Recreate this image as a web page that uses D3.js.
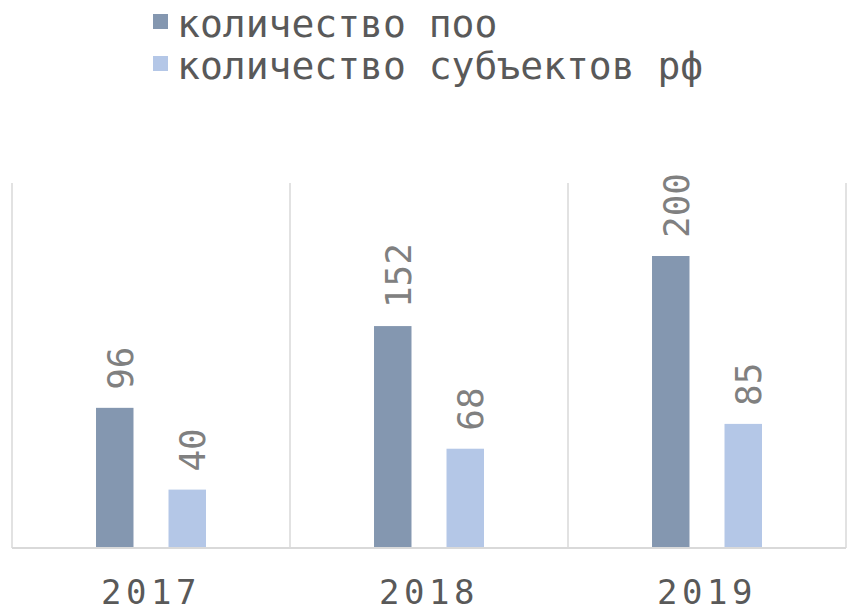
<!DOCTYPE html>
<html>
<head>
<meta charset="utf-8">
<script src="https://cdn.jsdelivr.net/npm/d3@7"></script>
<style>
  body { margin: 0; background: #fff; }
  text { font-family: "DejaVu Sans Mono", monospace; }
</style>
</head>
<body>
<div class="chart"></div>
<script>
// data
let years = ["2017", "2018", "2019"]
let seriesNames = ["количество ПОО", "количество субъектов РФ"]
let pooCount = [96, 152, 200]
let regionCount = [40, 68, 85]
let colors = ["#8497b0", "#b4c7e7"]

let svgWidth = 848
let svgHeight = 614

let svg = d3.select('.chart')
    .append('svg')
    .attr('width', svgWidth)
    .attr('height', svgHeight)

// scales
let xScale = d3.scaleBand()
    .domain(years)
    .range([12, 846])
    .padding(0)

let xInner = d3.scaleBand()
    .domain(seriesNames)
    .range([0, xScale.bandwidth()])
    .paddingInner(0.483)
    .paddingOuter(1.159)

let yScale = d3.scaleLinear()
    .domain([0, 250])
    .range([548, 183])

// build rows for bars
let rows = []
years.forEach((y, i) => {
    rows.push({year: y, series: seriesNames[0], value: pooCount[i], color: colors[0]})
    rows.push({year: y, series: seriesNames[1], value: regionCount[i], color: colors[1]})
})

// vertical gridlines between categories
let bounds = years.map(d => xScale(d)).concat([xScale(years[years.length - 1]) + xScale.bandwidth()])
svg.append('g')
    .selectAll('line')
    .data(bounds)
    .join('line')
    .attr('x1', d => d)
    .attr('x2', d => d)
    .attr('y1', yScale(250))
    .attr('y2', yScale(0))
    .attr('stroke', '#d9d9d9')
    .attr('stroke-width', 1.5)

// bars
svg.append('g')
    .selectAll('rect')
    .data(rows)
    .join('rect')
    .attr('x', d => xScale(d.year) + xInner(d.series))
    .attr('y', d => yScale(d.value))
    .attr('width', xInner.bandwidth())
    .attr('height', d => yScale(0) - yScale(d.value))
    .attr('fill', d => d.color)

// baseline
svg.append('line')
    .attr('x1', xScale.range()[0])
    .attr('x2', xScale.range()[1])
    .attr('y1', yScale(0))
    .attr('y2', yScale(0))
    .attr('stroke', '#d9d9d9')
    .attr('stroke-width', 2)

// value labels, rotated
svg.append('g')
    .selectAll('text')
    .data(rows)
    .join('text')
    .attr('transform', d => {
        let cx = xScale(d.year) + xInner(d.series) + xInner.bandwidth() / 2 + 18
        let cy = yScale(d.value) - 18
        return `translate(${cx},${cy}) rotate(-90)`
    })
    .attr('font-size', 36)
    .attr('fill', '#808080')
    .text(d => d.value)

// x axis labels
svg.append('g')
    .selectAll('text')
    .data(years)
    .join('text')
    .attr('x', d => xScale(d) + xScale.bandwidth() / 2)
    .attr('y', 604)
    .attr('text-anchor', 'middle')
    .attr('font-size', 34)
    .attr('letter-spacing', 4.5)
    .attr('fill', '#595959')
    .text(d => d)

// legend
let legend = svg.append('g')
    .selectAll('g')
    .data(seriesNames)
    .join('g')
    .attr('transform', (d, i) => `translate(153,${14 + i * 42})`)

legend.append('rect')
    .attr('width', 15)
    .attr('height', 15)
    .attr('fill', (d, i) => colors[i])

legend.append('text')
    .attr('x', 24)
    .attr('y', 23)
    .attr('font-size', 38)
    .attr('fill', '#595959')
    .text(d => d.toLowerCase())
</script>
</body>
</html>
